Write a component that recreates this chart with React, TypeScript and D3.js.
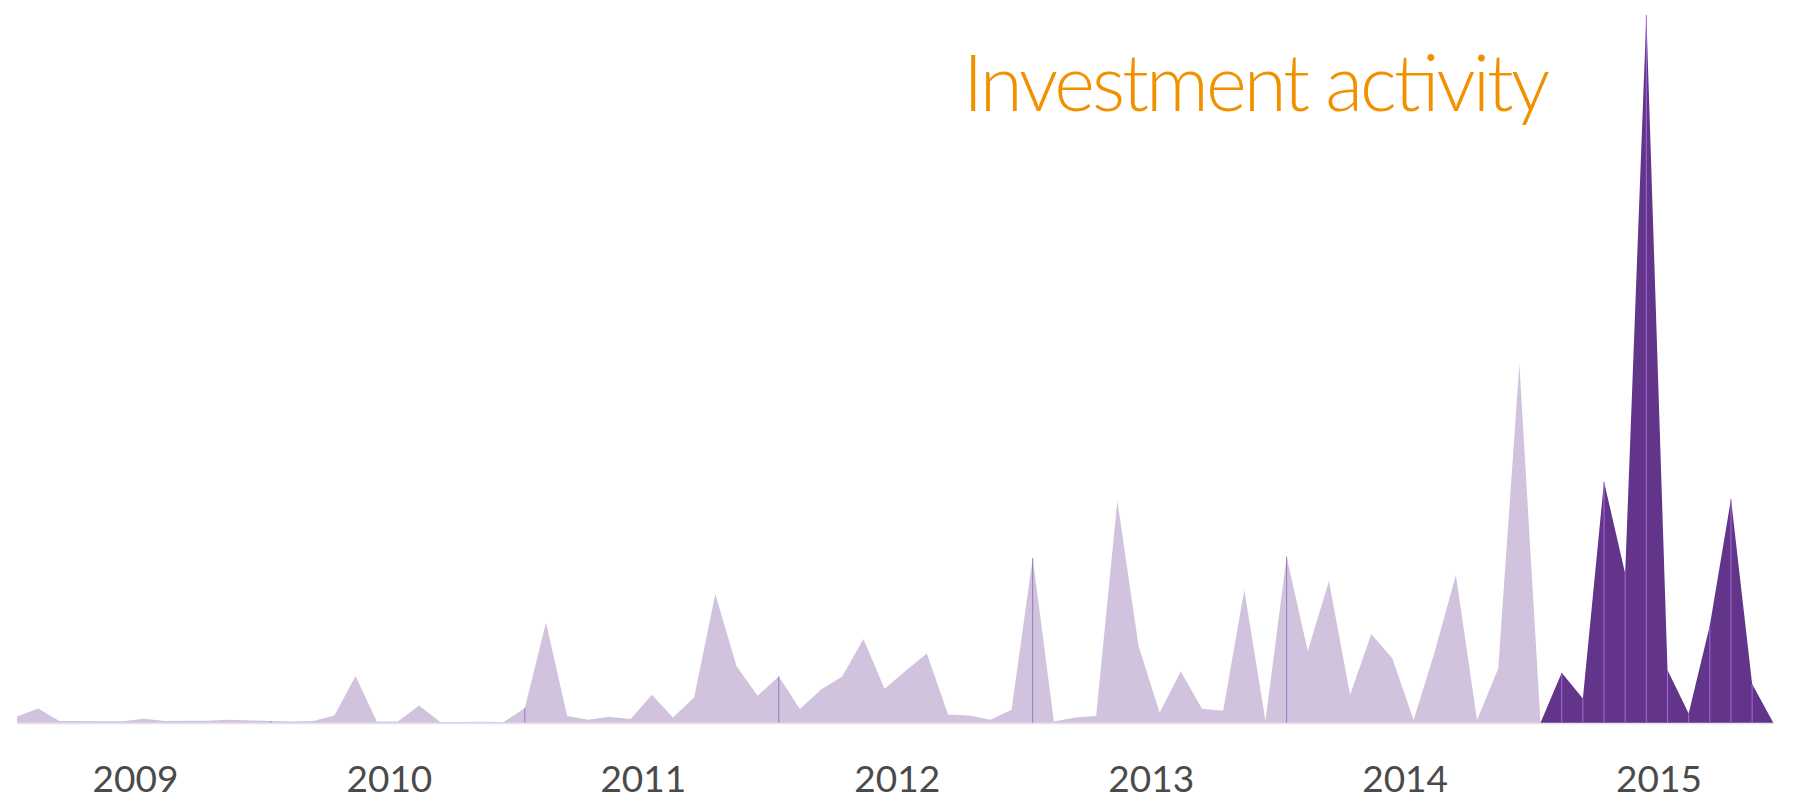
import { useEffect, useRef } from 'react';
import * as d3 from 'd3';

type MonthPoint = { year: number; month: number; index: number; value: number };

const years = [2009, 2010, 2011, 2012, 2013, 2014, 2015];

// monthly activity, Jan..Dec
const activity2009 = [6.3, 14.3, 1.7, 1.7, 1.5, 1.5, 4, 1.7, 2, 2, 3, 2.3];
const activity2010 = [1.7, 1.3, 1.7, 7.3, 46.7, 1.3, 1.3, 17.3, 0.7, 0.7, 1, 0.7];
const activity2011 = [14.7, 100.3, 6.7, 3, 6, 3.7, 28, 5.3, 25.3, 128.7, 56.7, 27];
const activity2012 = [46.3, 13.7, 33.3, 46.3, 83.7, 34, 52, 69.3, 8.3, 7.3, 3, 13];
const activity2013 = [164.7, 1.3, 5.3, 6.7, 222, 77, 10.3, 51.3, 14, 12, 132.7, 2];
const activity2014 = [166, 71.7, 141.7, 27.7, 88.7, 64.3, 2.7, 71, 147.7, 2.7, 54.3, 358.7];
const activity2015 = [0, 50, 24.3, 241, 149.3, 707.7, 52.7, 9.3, 97.3, 223.7, 38.7, 0];

const activityByYear = [
  activity2009,
  activity2010,
  activity2011,
  activity2012,
  activity2013,
  activity2014,
  activity2015,
];

const highlightYear = 2015;
const title = 'Investment activity';

export default function App() {
  const svgRef = useRef<SVGSVGElement | null>(null);

  useEffect(() => {
    if (!svgRef.current) return;

    const width = 1802;
    const height = 805;

    const svg = d3.select(svgRef.current).attr('width', width).attr('height', height);
    svg.selectAll('*').remove();

    const months: MonthPoint[] = activityByYear.flatMap((values, yi) =>
      values.map((value, m) => ({ year: years[yi], month: m, index: yi * 12 + m, value })),
    );

    const xScale = d3
      .scaleLinear()
      .domain([0, months.length - 1])
      .range([17, 1773.3]);
    const yScale = d3
      .scaleLinear()
      .domain([0, d3.max(months, (d) => d.value) ?? 1])
      .range([722.7, 15]);

    const splitIndex = years.indexOf(highlightYear) * 12;
    const before = months.filter((d) => d.index <= splitIndex);
    const after = months.filter((d) => d.index >= splitIndex);

    const area = d3
      .area<MonthPoint>()
      .x((d) => xScale(d.index))
      .y0(yScale(0))
      .y1((d) => yScale(d.value));

    // faint baseline under the areas
    svg
      .append('line')
      .attr('x1', xScale(0))
      .attr('x2', xScale(months.length - 1))
      .attr('y1', yScale(0) + 0.8)
      .attr('y2', yScale(0) + 0.8)
      .attr('stroke', '#e6dfee')
      .attr('stroke-width', 1.4);

    svg.append('path').datum(before).attr('d', area).attr('fill', '#d1c3de');

    // january markers in the earlier years
    svg
      .append('g')
      .selectAll('line')
      .data(before.filter((d) => d.month === 0 && d.index > 0 && d.index < splitIndex))
      .join('line')
      .attr('x1', (d) => xScale(d.index))
      .attr('x2', (d) => xScale(d.index))
      .attr('y1', yScale(0))
      .attr('y2', (d) => yScale(d.value))
      .attr('stroke', '#967bbf')
      .attr('stroke-width', 1);

    svg.append('path').datum(after).attr('d', area).attr('fill', '#62358b');

    // month separators in the highlighted year
    svg
      .append('g')
      .selectAll('line')
      .data(after.filter((d) => d.value > 0))
      .join('line')
      .attr('x1', (d) => xScale(d.index))
      .attr('x2', (d) => xScale(d.index))
      .attr('y1', yScale(0))
      .attr('y2', (d) => yScale(d.value))
      .attr('stroke', '#a46ad8')
      .attr('stroke-width', 1);

    svg
      .append('g')
      .selectAll('text')
      .data(years)
      .join('text')
      .attr('x', (_, i) => xScale(i * 12 + 5.6))
      .attr('y', 792)
      .attr('text-anchor', 'middle')
      .attr('font-family', 'Lato, "Noto Sans", sans-serif')
      .attr('font-size', 37)
      .attr('fill', '#4a4a4a')
      .text((d) => String(d));

    svg
      .append('text')
      .attr('x', 963)
      .attr('y', 110.5)
      .attr('font-family', 'Lato, "Noto Sans", sans-serif')
      .attr('font-weight', 300)
      .attr('font-size', 78)
      .attr('fill', '#f29100')
      .attr('textLength', 587)
      .attr('lengthAdjust', 'spacing')
      .text(title);
  }, []);

  return (
    <svg
      ref={svgRef}
      style={{ position: 'absolute', left: 0, top: 0, background: '#ffffff' }}
    />
  );
}
